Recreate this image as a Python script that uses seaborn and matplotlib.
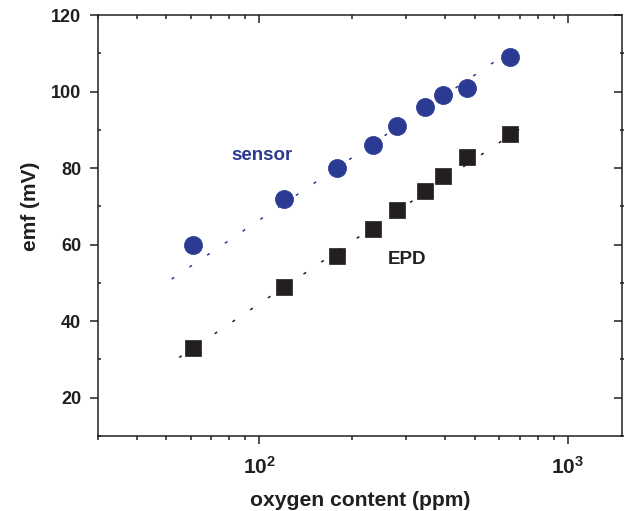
import numpy as np
import pandas as pd
import matplotlib
matplotlib.use("Agg")
import matplotlib.pyplot as plt
import seaborn as sns
from matplotlib.ticker import LogLocator, FuncFormatter, MultipleLocator, NullFormatter, FixedLocator

# ---- data ----
ppm = [61, 120, 178, 234, 279, 344, 394, 472, 650]
sensor_emf = [60, 72, 80, 86, 91, 96, 99, 101, 109]
epd_emf = [33, 49, 57, 64, 69, 74, 78, 83, 89]
sensor_fit_ppm = [52, 692]
sensor_fit_emf = [51, 112]
epd_fit_ppm = [55, 725]
epd_fit_emf = [30.5, 91.1]
y_ticks = [20, 40, 60, 80, 100, 120]

BLUE = "#2b3a92"
DARK = "#231f20"

sns.set_theme(style="white")
plt.rcParams['font.family'] = ['Liberation Sans', 'DejaVu Sans']
plt.rcParams['font.weight'] = 'bold'
plt.rcParams['mathtext.fontset'] = 'custom'
plt.rcParams['mathtext.rm'] = 'Liberation Sans:bold'
plt.rcParams['mathtext.bf'] = 'Liberation Sans:bold'
plt.rcParams['mathtext.it'] = 'Liberation Sans:bold'

fig = plt.figure(figsize=(6.24, 5.11), dpi=100)
ax = fig.add_axes([98/624, 1-436/511, (622-98)/624, (436-15)/511])

df_s = pd.DataFrame({"ppm": ppm, "emf": sensor_emf})
df_e = pd.DataFrame({"ppm": ppm, "emf": epd_emf})
fs = pd.DataFrame({"ppm": sensor_fit_ppm, "emf": sensor_fit_emf})
fe = pd.DataFrame({"ppm": epd_fit_ppm, "emf": epd_fit_emf})

sns.lineplot(data=fs, x="ppm", y="emf", ax=ax, color=BLUE, linewidth=1.1,
             linestyle=(0, (2, 12)), zorder=1)
sns.lineplot(data=fe, x="ppm", y="emf", ax=ax, color=DARK, linewidth=1.1,
             linestyle=(0, (2, 12)), zorder=1)
sns.scatterplot(data=df_s, x="ppm", y="emf", ax=ax, marker="o", s=170,
                color=BLUE, edgecolor=BLUE, linewidth=0.5, zorder=3)
sns.scatterplot(data=df_e, x="ppm", y="emf", ax=ax, marker="s", s=125,
                color=DARK, edgecolor=DARK, linewidth=0.5, zorder=3)

ax.set_xscale("log")
ax.set_xlim(30, 1500)
ax.set_ylim(10, 120)

ax.xaxis.set_major_locator(LogLocator(base=10, numticks=10))
ax.xaxis.set_minor_locator(LogLocator(base=10, subs=np.arange(2, 10), numticks=20))
ax.xaxis.set_major_formatter(FuncFormatter(lambda v, p: r'$10^{%d}$' % round(np.log10(v))))
ax.xaxis.set_minor_formatter(NullFormatter())
ax.set_yticks(y_ticks)
ax.yaxis.set_minor_locator(MultipleLocator(10))

for sp in ax.spines.values():
    sp.set_color(DARK)
    sp.set_linewidth(1.1)
    sp.set_visible(True)

ax.tick_params(axis='x', which='major', direction='out', length=6, width=1.1,
               color=DARK, pad=8, labelsize=15, labelcolor=DARK, bottom=True)
ax.tick_params(axis='x', which='minor', direction='out', length=3, width=1.1,
               color=DARK, bottom=True)
ax.tick_params(axis='y', which='major', direction='out', length=6, width=1.1,
               color=DARK, pad=6, labelsize=13, labelcolor=DARK, left=True)
ax.tick_params(axis='y', which='minor', direction='in', length=2, width=1.1,
               color=DARK, left=True)

# top ticks (inward)
axt = ax.twiny()
axt.set_xscale("log")
axt.set_xlim(ax.get_xlim())
axt.xaxis.set_major_locator(LogLocator(base=10, numticks=10))
axt.xaxis.set_minor_locator(LogLocator(base=10, subs=np.arange(2, 10), numticks=20))
axt.xaxis.set_major_formatter(NullFormatter())
axt.xaxis.set_minor_formatter(NullFormatter())
axt.tick_params(axis='x', which='major', direction='in', length=6, width=1.1, color=DARK,
                top=True, bottom=False, labeltop=False)
axt.tick_params(axis='x', which='minor', direction='in', length=3, width=1.1, color=DARK,
                top=True, bottom=False)
axt.tick_params(axis='y', which='both', left=False, right=False, labelleft=False, labelright=False)
for sp in axt.spines.values():
    sp.set_visible(False)

# right ticks (inward)
axr = ax.twinx()
axr.set_ylim(ax.get_ylim())
axr.yaxis.set_major_locator(FixedLocator(y_ticks))
axr.yaxis.set_minor_locator(MultipleLocator(10))
axr.yaxis.set_major_formatter(NullFormatter())
axr.tick_params(axis='y', which='major', direction='in', length=6, width=1.1, color=DARK,
                right=True, left=False, labelright=False)
axr.tick_params(axis='y', which='minor', direction='inout', length=3, width=1.1, color=DARK,
                right=True, left=False)
axr.tick_params(axis='x', which='both', top=False, bottom=False, labelbottom=False, labeltop=False)
for sp in axr.spines.values():
    sp.set_visible(False)

ax.set_xlabel("oxygen content (ppm)", fontsize=15.2, fontweight='bold', color=DARK, labelpad=10)
ax.set_ylabel("emf (mV)", fontsize=15, fontweight='bold', color=DARK, labelpad=8)
ax.yaxis.label.set_y(0.546)

ax.text(102, 83.4, "sensor", color=BLUE, fontsize=13.5, fontweight='bold',
        ha='center', va='center')
ax.text(302, 56, "EPD", color=DARK, fontsize=13.5, fontweight='bold',
        ha='center', va='center')

fig.savefig("out.png", dpi=100)
